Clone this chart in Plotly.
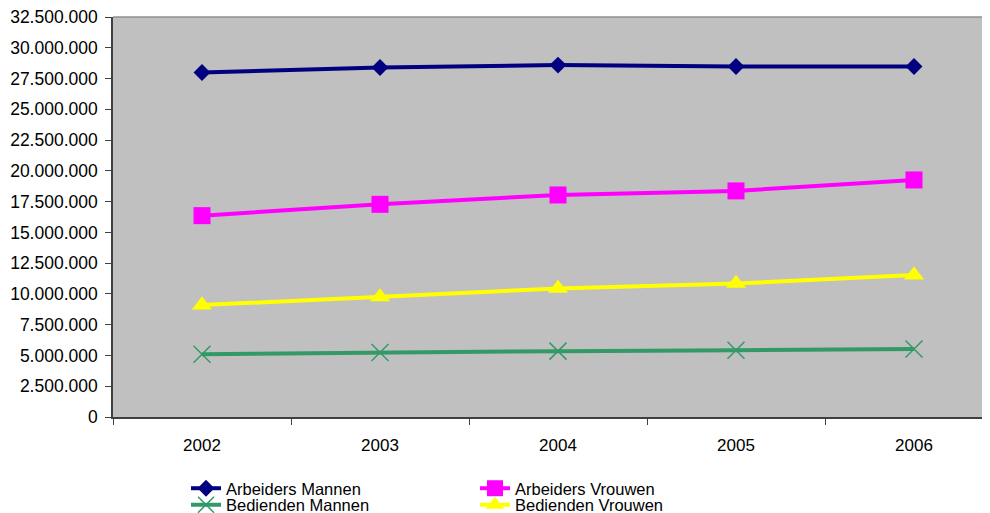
import plotly.graph_objects as go

years = ["2002", "2003", "2004", "2005", "2006"]
arbeiders_mannen = [27990000, 28400000, 28590000, 28480000, 28480000]
arbeiders_vrouwen = [16360000, 17280000, 18040000, 18370000, 19260000]
bedienden_mannen = [5100000, 5240000, 5350000, 5430000, 5530000]
bedienden_vrouwen = [9090000, 9760000, 10450000, 10850000, 11530000]

FONT = "Liberation Sans, Arial, sans-serif"

fig = go.Figure()
fig.add_trace(go.Scatter(
    x=years, y=arbeiders_mannen, name="Arbeiders Mannen", mode="lines+markers",
    line=dict(color="#000080", width=4),
    marker=dict(symbol="diamond", size=13, color="#000080"),
    legend="legend"))
fig.add_trace(go.Scatter(
    x=years, y=arbeiders_vrouwen, name="Arbeiders Vrouwen", mode="lines+markers",
    line=dict(color="#FF00FF", width=4),
    marker=dict(symbol="square", size=17, color="#FF00FF"),
    legend="legend2"))
fig.add_trace(go.Scatter(
    x=years, y=bedienden_mannen, name="Bedienden Mannen", mode="lines+markers",
    line=dict(color="#339966", width=4),
    marker=dict(symbol="x-thin-open", size=17, color="#339966",
                line=dict(color="#339966", width=1.5)),
    legend="legend3"))
fig.add_trace(go.Scatter(
    x=years, y=bedienden_vrouwen, name="Bedienden Vrouwen", mode="lines+markers",
    line=dict(color="#FFFF00", width=4),
    marker=dict(symbol="triangle-up", size=17.5, color="#FFFF00"),
    legend="legend4"))

leg_common = dict(xref="paper", yref="paper", xanchor="left", yanchor="middle",
                  bgcolor="rgba(0,0,0,0)", font=dict(family=FONT, size=16.5, color="black"),
                  itemclick=False, itemdoubleclick=False)
PW = 885
x1, x2 = 73 / PW, 362 / PW
r1, r2 = (417 - 488.5) / 400, (417 - 505) / 400

fig.update_layout(
    width=990, height=513,
    margin=dict(l=105, r=0, t=9, b=104, autoexpand=False),
    paper_bgcolor="white",
    plot_bgcolor="#C0C0C0",
    separators=",.",
    font=dict(family=FONT, size=17, color="black"),
    showlegend=True,
    legend=dict(x=x1, y=r1, **leg_common),
    legend2=dict(x=x2, y=r1, **leg_common),
    legend3=dict(x=x1, y=r2, **leg_common),
    legend4=dict(x=x2, y=r2, **leg_common),
    xaxis=dict(
        type="category", range=[-0.5, -0.5 + PW / 178], tickson="boundaries",
        ticks="outside", ticklen=6, tickcolor="#404040", tickwidth=1,
        showline=True, linecolor="#404040", linewidth=1.5,
        showgrid=False, zeroline=False, ticklabelstandoff=12, tickangle=0,
        ticklabeloverflow="allow",
        tickfont=dict(family=FONT, size=17, color="black"), fixedrange=True),
    yaxis=dict(
        range=[0, 32500000], dtick=2500000, tick0=0, tickformat=",d",
        ticks="outside", ticklen=6, tickcolor="#404040", tickwidth=1,
        showline=True, linecolor="#404040", linewidth=1.5,
        showgrid=False, zeroline=False, ticklabelstandoff=4,
        ticklabeloverflow="allow",
        tickfont=dict(family=FONT, size=17.5, color="black"), fixedrange=True),
    shapes=[dict(type="line", xref="paper", yref="paper", x0=0, x1=1, y0=1, y1=1,
                 line=dict(color="#909090", width=1.5))],
)

fig.write_html("out.html")
